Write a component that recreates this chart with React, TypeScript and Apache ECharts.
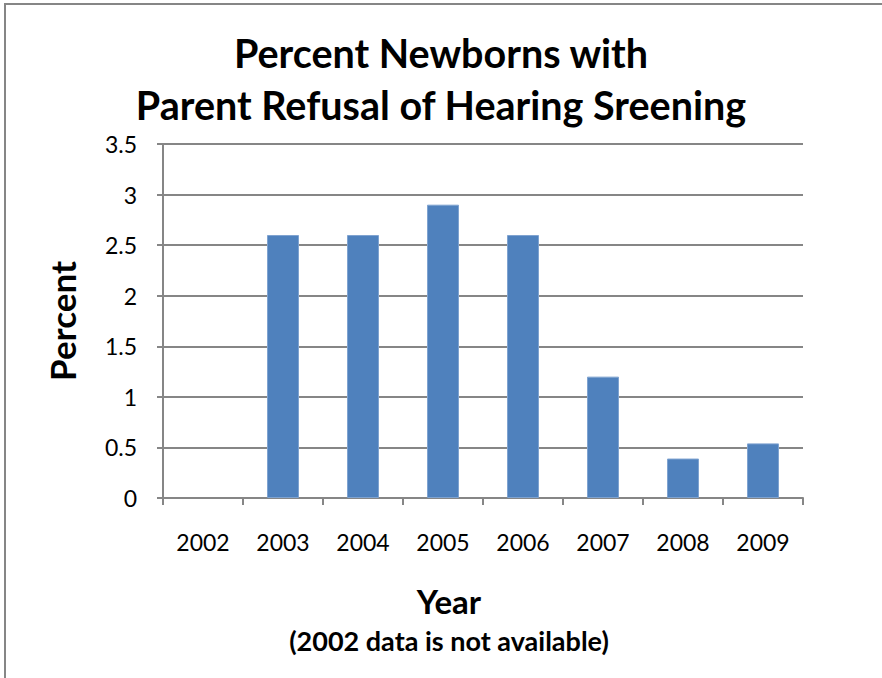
import React, { useEffect, useRef } from "react";
import * as echarts from "echarts";

const years = ["2002", "2003", "2004", "2005", "2006", "2007", "2008", "2009"];
const percents: (number | null)[] = [null, 2.6, 2.6, 2.9, 2.6, 1.2, 0.39, 0.54];
const titleLines = ["Percent Newborns with", "Parent Refusal of Hearing Sreening"];
const xAxisTitle = "Year";
const note = "(2002 data is not available)";

const FONT = "Lato, 'Open Sans', sans-serif";
const GRAY = "#868686";

export default function App() {
  const ref = useRef<HTMLDivElement>(null);
  useEffect(() => {
    if (!ref.current) return;
    const chart = echarts.init(ref.current, undefined, { renderer: "svg" });
    chart.setOption({
      animation: false,
      backgroundColor: "#ffffff",
      textStyle: { fontFamily: FONT },
      title: {
        text: titleLines.join("\n"),
        left: "center",
        top: 21,
        textStyle: {
          fontFamily: FONT,
          fontSize: 39.5,
          fontWeight: "bold",
          color: "#000",
          lineHeight: 52,
        },
      },
      graphic: [
        {
          type: "rect",
          shape: { x: 5, y: 4, width: 900, height: 700 },
          style: { fill: "none", stroke: GRAY, lineWidth: 2 },
          silent: true,
        },
        {
          type: "text",
          x: 449,
          y: 601,
          style: {
            text: xAxisTitle,
            font: `bold 33px ${FONT}`,
            fill: "#000",
            align: "center",
            verticalAlign: "middle",
          },
        },
        {
          type: "text",
          x: 449,
          y: 640,
          style: {
            text: note,
            font: `bold 27px ${FONT}`,
            fill: "#000",
            align: "center",
            verticalAlign: "middle",
          },
        },
      ],
      grid: { left: 163, right: 79, top: 144, bottom: 180 },
      xAxis: {
        type: "category",
        data: years,
        axisLine: { lineStyle: { color: GRAY, width: 2 } },
        axisTick: { show: true, length: 7, alignWithLabel: false, lineStyle: { color: GRAY, width: 2 } },
        axisLabel: { fontFamily: FONT, fontSize: 23, color: "#000", margin: 32 },
      },
      yAxis: {
        type: "value",
        min: 0,
        max: 3.5,
        interval: 0.5,
        name: "Percent",
        nameLocation: "middle",
        nameRotate: 90,
        nameGap: 84,
        nameTextStyle: { fontFamily: FONT, fontSize: 35, fontWeight: "bold", color: "#000" },
        axisLine: { show: true, lineStyle: { color: GRAY, width: 2 } },
        axisTick: { show: true, length: 6, lineStyle: { color: GRAY, width: 2 } },
        axisLabel: { fontFamily: FONT, fontSize: 23, color: "#000", margin: 26 },
        splitLine: { show: true, lineStyle: { color: GRAY, width: 2 } },
      },
      series: [
        {
          type: "bar",
          data: percents,
          barWidth: 32,
          itemStyle: { color: "#4F81BD", borderColor: "#7FA3D0", borderWidth: 1 },
        },
      ],
    });
    return () => chart.dispose();
  }, []);
  return (
    <div
      ref={ref}
      style={{ position: "fixed", left: 0, top: 0, width: 882, height: 678 }}
    />
  );
}
